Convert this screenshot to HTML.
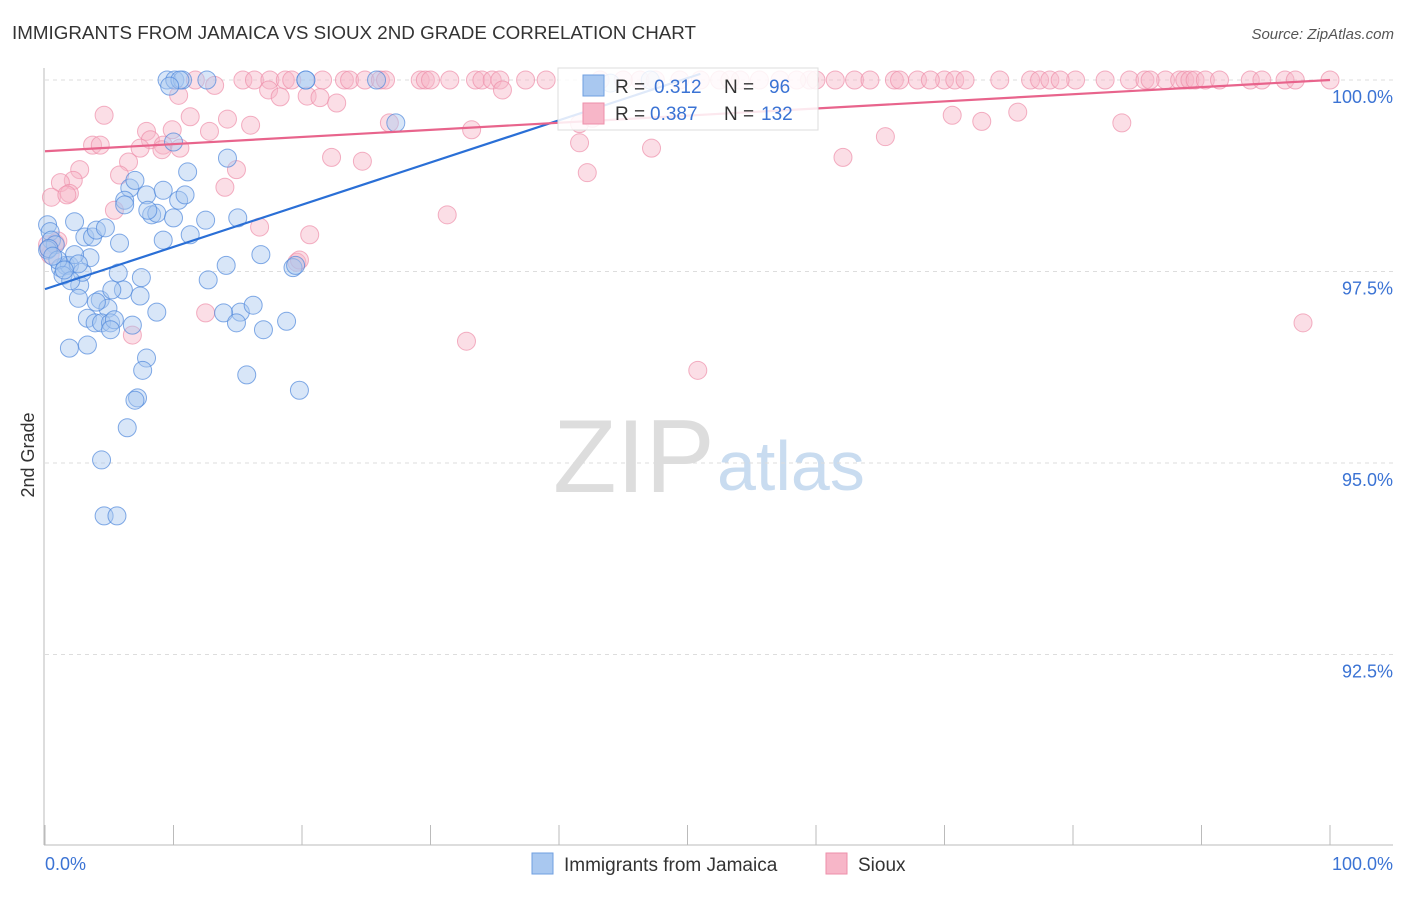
<!DOCTYPE html>
<html><head><meta charset="utf-8"><style>
body{margin:0;background:#fff;font-family:"Liberation Sans",sans-serif;}
svg text{font-family:"Liberation Sans",sans-serif;}
</style></head><body>
<svg id="chart" width="1406" height="892" viewBox="0 0 1406 892" xmlns="http://www.w3.org/2000/svg">
<text x="12" y="39" font-size="18" fill="#333" textLength="684" lengthAdjust="spacingAndGlyphs">IMMIGRANTS FROM JAMAICA VS SIOUX 2ND GRADE CORRELATION CHART</text>
<text x="1394" y="39" font-size="15" fill="#555" font-style="italic" text-anchor="end">Source: ZipAtlas.com</text>
<g>
<text x="553" y="492" font-size="104" font-family="Liberation Serif,serif" fill="#ddd">ZIP</text>
<text x="717" y="490" font-size="70" fill="#c9dcf0">atlas</text>
</g>
<g id="grid"></g>
<g id="axes"></g>
<g id="pts-pink"></g>
<g id="pts-blue"></g>
<g id="lines"></g>
<text transform="translate(34,455) rotate(-90)" font-size="18" fill="#333" text-anchor="middle">2nd Grade</text>
<text x="45" y="870" font-size="18" fill="#3b73d4">0.0%</text>
<text x="1393" y="870" font-size="18" fill="#3b73d4" text-anchor="end">100.0%</text>
<g>
<rect x="558" y="68" width="260" height="62" fill="#fff" fill-opacity="0.85" stroke="#ddd"/>
<rect x="583" y="75" width="21" height="21" fill="#a9c8f0" stroke="#6f9fe0"/>
<rect x="583" y="103" width="21" height="21" fill="#f7b6c8" stroke="#ee8faa"/>
<text x="615" y="93" font-size="19" fill="#333">R = </text><text x="654" y="93" font-size="19" fill="#3b73d4">0.312</text>
<text x="724" y="93" font-size="19" fill="#333">N = </text><text x="769" y="93" font-size="19" fill="#3b73d4">96</text>
<text x="615" y="120" font-size="19" fill="#333">R = </text><text x="650" y="120" font-size="19" fill="#3b73d4">0.387</text>
<text x="724" y="120" font-size="19" fill="#333">N = </text><text x="761" y="120" font-size="19" fill="#3b73d4">132</text>
</g>
<g>
<rect x="532" y="853" width="21" height="21" fill="#a9c8f0" stroke="#6f9fe0"/>
<text x="564" y="871" font-size="19" fill="#333">Immigrants from Jamaica</text>
<rect x="826" y="853" width="21" height="21" fill="#f7b6c8" stroke="#ee8faa"/>
<text x="858" y="871" font-size="19" fill="#333">Sioux</text>
</g>
</svg>
<script>
const yTicks=[100,97.5,95,92.5];
const yTickLabels=["100.0%","97.5%","95.0%","92.5%"];
const xTicks=[0,10,20,30,40,50,60,70,80,90,100];
const blueX=[9.5,10.1,10.7,10.5,12.6,20.3,25.8,9.7,0.2,0.4,0.5,0.8,0.2,1.2,1.6,1.9,2.3,3.1,3.7,4.0,4.7,3.5,2.3,2.7,2.9,2.6,4.3,4.9,3.3,3.9,4.4,5.1,5.4,5.1,1.9,3.3,5.8,5.7,6.1,5.2,7.4,7.5,8.7,7.9,7.6,7.2,7.0,6.4,4.4,4.6,5.6,6.6,6.2,7.0,6.2,7.9,8.3,8.7,9.2,9.2,10.4,10.9,11.1,10.0,14.2,12.5,15.0,11.3,14.1,12.7,16.8,15.2,13.9,14.9,16.2,17.0,18.8,19.3,19.5,15.7,20.3,19.8,27.3,44.0,47.1,0.3,1.0,1.4,2.0,2.6,0.6,1.5,4.0,6.8,8.0,10.0];
const blueY=[100,100,100,100,100,100,100,99.92,98.11,98.02,97.91,97.85,97.78,97.55,97.58,97.58,98.15,97.95,97.95,98.04,98.07,97.68,97.72,97.32,97.49,97.15,97.13,97.02,96.89,96.83,96.83,96.83,96.87,96.74,96.50,96.54,97.87,97.48,97.26,97.26,97.18,97.42,96.97,96.37,96.21,95.85,95.82,95.46,95.04,94.31,94.31,98.59,98.43,98.69,98.37,98.50,98.24,98.26,98.56,97.91,98.43,98.50,98.80,99.19,98.98,98.17,98.20,97.98,97.58,97.39,97.72,96.97,96.96,96.83,97.06,96.74,96.85,97.55,97.58,96.15,100,95.95,99.44,99.96,100,97.80,97.65,97.45,97.38,97.60,97.70,97.52,97.10,96.80,98.30,98.20];
const pinkX=[15.4,16.3,17.5,18.7,19.2,21.6,23.3,23.7,24.9,26.1,26.5,29.2,29.6,30.0,31.5,33.5,34.0,34.8,35.4,37.4,43.2,46.3,47.5,49.4,51.0,52.5,54.1,55.6,57.2,59.5,61.5,63.0,64.2,66.1,66.5,67.9,70.0,70.8,71.6,74.3,76.7,77.4,78.2,80.2,82.5,84.4,85.6,87.2,88.3,88.7,89.1,89.5,90.3,91.4,93.8,94.7,96.5,97.3,100,13.2,10.4,11.7,17.4,18.3,20.4,21.4,22.7,35.6,4.6,11.3,12.8,14.2,16.0,26.8,33.2,41.6,42.6,70.6,72.9,75.7,83.8,65.4,7.9,9.9,3.7,4.3,8.2,9.2,10.5,9.1,6.5,7.4,22.3,24.7,41.6,47.2,62.1,2.7,5.8,14.9,2.2,1.2,1.9,0.5,1.7,5.4,14.0,0.8,0.2,0.4,31.3,16.7,20.6,19.6,19.8,42.2,12.5,6.8,32.8,50.8,97.9,0.3,1.0,39.0,45.0,53.3,58.5,60.0,68.9,79.0,86.0];
const pinkY=[100,100,100,100,100,100,100,100,100,100,100,100,100,100,100,100,100,100,100,100,100,100,100,100,100,100,100,100,100,100,100,100,100,100,100,100,100,100,100,100,100,100,100,100,100,100,100,100,100,100,100,100,100,100,100,100,100,100,100,99.93,99.80,100,99.87,99.78,99.79,99.77,99.70,99.87,99.54,99.52,99.33,99.49,99.41,99.44,99.35,99.43,99.50,99.54,99.46,99.58,99.44,99.26,99.33,99.35,99.15,99.15,99.22,99.15,99.11,99.09,98.93,99.11,98.99,98.94,99.18,99.11,98.99,98.83,98.76,98.83,98.69,98.66,98.52,98.47,98.50,98.30,98.60,97.87,97.85,97.72,98.24,98.08,97.98,97.62,97.65,98.79,96.96,96.67,96.59,96.21,96.83,97.80,97.90,100,100,100,100,100,100,100,100];
const blueTrend=[[0,97.27],[51,100.08]];
const pinkTrend=[[0,99.07],[100,100.0]];
const NS="http://www.w3.org/2000/svg";
const sx=v=>45+v*12.85;
const sy=v=>80+(100-v)*76.6;
function mk(t,a,p){const e=document.createElementNS(NS,t);for(const k in a)e.setAttribute(k,a[k]);p.appendChild(e);return e;}
const grid=document.getElementById('grid');
yTicks.forEach((t,i)=>{
  const l=mk('line',{x1:45,x2:1393,y1:sy(t),y2:sy(t),stroke:'#ddd','stroke-dasharray':'4,4'},grid);
  
  
  const tx=mk('text',{x:1393,y:sy(t)+23,'font-size':18,fill:'#3b73d4','text-anchor':'end'},grid);
  tx.textContent=yTickLabels[i];
  
  
});
const axes=document.getElementById('axes');
let a1=mk('line',{x1:44,x2:44,y1:68,y2:845,stroke:'#bbb'},axes);


let a2=mk('line',{x1:44,x2:1393,y1:845,y2:845,stroke:'#bbb'},axes);


xTicks.forEach(t=>{
  const l=mk('line',{x1:sx(t),x2:sx(t),y1:825,y2:845,stroke:'#bbb'},axes);
  
  
});
const gp=document.getElementById('pts-pink');
pinkX.forEach((x,i)=>{
  const c=mk('circle',{cx:sx(x),cy:sy(pinkY[i]),r:9,fill:'#f7b6c8','fill-opacity':0.45,stroke:'#ee8faa','stroke-opacity':0.7},gp);
  
  
});
const gb=document.getElementById('pts-blue');
blueX.forEach((x,i)=>{
  const c=mk('circle',{cx:sx(x),cy:sy(blueY[i]),r:9,fill:'#a9c8f0','fill-opacity':0.45,stroke:'#4f88dc','stroke-opacity':0.7},gb);
  
  
});
const gl=document.getElementById('lines');
let b=mk('line',{x1:sx(blueTrend[0][0]),y1:sy(blueTrend[0][1]),x2:sx(blueTrend[1][0]),y2:sy(blueTrend[1][1]),stroke:'#2a6fd6','stroke-width':2.2},gl);


let p=mk('line',{x1:sx(pinkTrend[0][0]),y1:sy(pinkTrend[0][1]),x2:sx(pinkTrend[1][0]),y2:sy(pinkTrend[1][1]),stroke:'#e8648c','stroke-width':2.2},gl);


</script>
</body></html>
